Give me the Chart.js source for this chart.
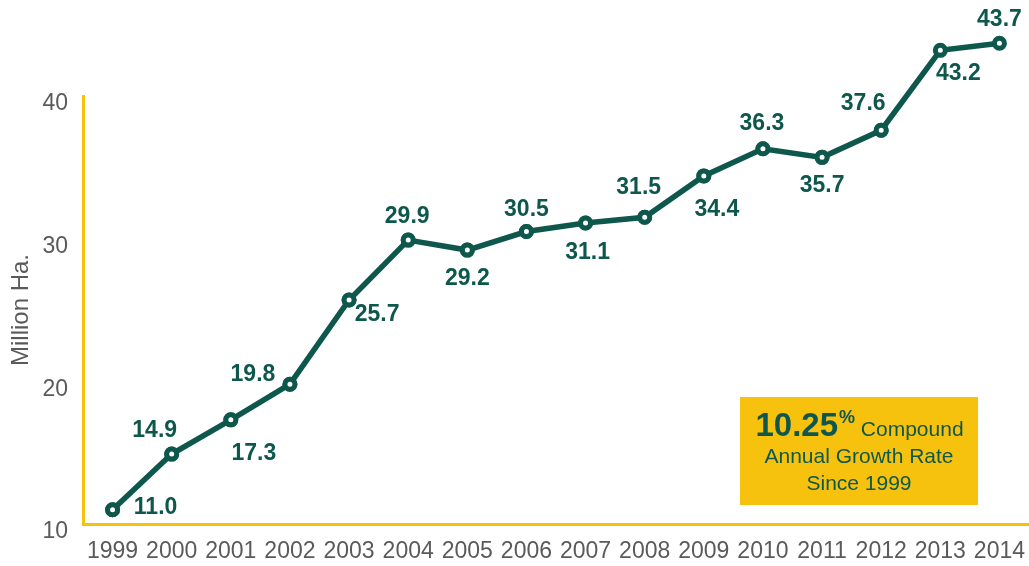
<!DOCTYPE html>
<html>
<head>
<meta charset="utf-8">
<script src="https://cdn.jsdelivr.net/npm/chart.js@4/dist/chart.umd.min.js"></script>
<style>
  html, body { margin: 0; padding: 0; background: #fff; }
  #wrap { width: 1029px; height: 566px; }
</style>
</head>
<body>
<div id="wrap"><canvas id="myChart" width="1029" height="566"></canvas></div>
<script>
const years = ['1999','2000','2001','2002','2003','2004','2005','2006','2007','2008','2009','2010','2011','2012','2013','2014']
const hectares = [11.0, 14.9, 17.3, 19.8, 25.7, 29.9, 29.2, 30.5, 31.1, 31.5, 34.4, 36.3, 35.7, 37.6, 43.2, 43.7]
const yLabels = [10, 20, 30, 40]

// where each value label sits relative to its point (px)
const labelOffsets = [
  [43, -2], [-17, -23], [23, 34], [-37, -10], [28, 15], [-1, -23], [0, 29], [0, -22],
  [2, 30], [-6, -30], [13, 34], [-1, -25], [0, 28], [-18, -27], [18, 23], [0, -24]
]

const green = '#0e574c'
const yellow = '#f7c20d'
const grey = '#5a5a5a'
const font = '"Liberation Sans", Arial, Helvetica, sans-serif'

const valueLabels = {
  id: 'valueLabels',
  afterDatasetsDraw(chart) {
    const c = chart.ctx
    const meta = chart.getDatasetMeta(0)
    // points above the 40 line sit outside the chart area, redraw all of them unclipped
    const full = { left: 0, top: 0, right: chart.width, bottom: chart.height }
    meta.data.forEach(pt => pt.draw(c, full))

    c.save()
    c.fillStyle = green
    c.font = 'bold 23px ' + font
    c.textAlign = 'center'
    c.textBaseline = 'middle'
    meta.data.forEach((pt, i) => {
      const [dx, dy] = labelOffsets[i]
      c.fillText(hectares[i].toFixed(1), pt.x + dx, pt.y + dy)
    })
    c.restore()
  }
}

// yellow callout box with the growth rate
const growthBox = {
  id: 'growthBox',
  afterDraw(chart) {
    const c = chart.ctx
    c.save()
    c.fillStyle = yellow
    c.fillRect(740, 397, 238, 108)
    c.fillStyle = green
    c.textBaseline = 'alphabetic'

    const big = '10.25', pct = '%', rest = ' Compound'
    c.font = 'bold 33px ' + font
    const wBig = c.measureText(big).width
    c.font = 'bold 18px ' + font
    const wPct = c.measureText(pct).width
    c.font = '21px ' + font
    const wRest = c.measureText(rest).width
    let x = 859 - (wBig + wPct + wRest) / 2
    c.textAlign = 'left'
    c.font = 'bold 33px ' + font
    c.fillText(big, x, 436)
    x += wBig
    c.font = 'bold 18px ' + font
    c.fillText(pct, x + 1, 423)
    x += wPct + 1
    c.font = '21px ' + font
    c.fillText(rest, x, 436)

    c.textAlign = 'center'
    c.fillText('Annual Growth Rate', 859, 463)
    c.fillText('Since 1999', 859, 490)
    c.restore()
  }
}

const ctx = document.getElementById('myChart')

const chart = new Chart(ctx, {
  type: 'line',
  data: {
    labels: years,
    datasets: [{
      data: hectares,
      borderColor: green,
      borderWidth: 5.5,
      pointRadius: 5,
      pointBorderWidth: 5,
      pointBackgroundColor: '#ffffff',
      pointBorderColor: green,
      tension: 0,
      clip: false
    }]
  },
  options: {
    responsive: false,
    animation: false,
    events: [],
    layout: { autoPadding: false, padding: { top: 96, right: 0, left: 0, bottom: 0 } },
    plugins: { legend: { display: false }, tooltip: { enabled: false } },
    scales: {
      x: {
        offset: true,
        grid: { display: false, drawTicks: false },
        border: { display: true, color: yellow, width: 3 },
        ticks: { color: grey, font: { family: font, size: 23, lineHeight: 2.4 }, padding: 0, maxRotation: 0, autoSkip: false },
        afterFit(scale) {
          scale.height = 42
          scale.paddingLeft = 0
          scale.paddingRight = 0
        }
      },
      y: {
        min: 10,
        max: 40,
        grid: { display: false, drawTicks: false },
        border: { display: true, color: yellow, width: 3 },
        afterBuildTicks(scale) { scale.ticks = yLabels.map(v => ({ value: v })) },
        ticks: { color: grey, font: { family: font, size: 23 }, padding: 15, labelOffset: 8 },
        title: { display: true, text: 'Million Ha.', color: grey, font: { family: font, size: 24 }, padding: { top: 7, bottom: 0 } },
        afterFit(scale) {
          scale.width = 83
          scale.paddingTop = 0
          scale.paddingBottom = 0
        }
      }
    }
  },
  plugins: [valueLabels, growthBox]
})
</script>
</body>
</html>
